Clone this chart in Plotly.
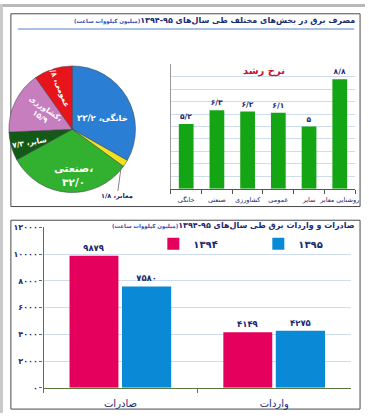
import plotly.graph_objects as go

W, H = 369, 418

# ---------------- data ----------------
pie_sectors = ["خانگی", "روشنایی معابر", "صنعتی", "سایر", "کشاورزی", "عمومی"]
pie_short = ["خانگی", "معابر", "صنعتی", "سایر", "کشاورزی", "عمومی"]
pie_values = [33.2, 1.8, 32.0, 7.3, 15.9, 9.8]
pie_value_text = ["۳۳/۲", "۱/۸", "۳۲/۰", "۷/۳", "۱۵/۹", "۹/۸"]

growth_categories = ["خانگی", "صنعتی", "کشاورزی", "عمومی", "سایر", "روشنایی معابر"]
growth_values = [5.2, 6.3, 6.2, 6.1, 5.0, 8.8]
growth_text = ["۵/۲", "۶/۳", "۶/۲", "۶/۱", "۵", "۸/۸"]

trade_categories = ["صادرات", "واردات"]
trade_1394 = [9879, 4149]
trade_1395 = [7580, 4275]
trade_1394_text = ["۹۸۷۹", "۴۱۴۹"]
trade_1395_text = ["۷۵۸۰", "۴۲۷۵"]
trade_ticks = [0, 2000, 4000, 6000, 8000, 10000, 12000]
trade_tick_text = ["۰", "۲۰۰۰", "۴۰۰۰", "۶۰۰۰", "۸۰۰۰", "۱۰۰۰۰", "۱۲۰۰۰"]
series_names = ["۱۳۹۴", "۱۳۹۵"]

title_top = "مصرف برق در بخش\u200cهای مختلف طی سال\u200cهای ۹۵-۱۳۹۴"
title_bottom = "صادرات و واردات برق طی سال\u200cهای ۹۵-۱۳۹۴"
unit_text = "(میلیون کیلووات ساعت)"
growth_title = "نرخ رشد"

# ---------------- style ----------------
FONT = "DejaVu Sans"
NAVY = "#1c2a6e"
pie_colors = ["#2a7fd4", "#f0e21c", "#31b12f", "#125a15", "#c67ebf", "#e8141c"]
GREEN_BAR = "#14a514"
PINK = "#e6005e"
BLUE = "#0a8ad6"
GRID = "#cfdcee"
OLIVE = "#5b7440"


def px(x):
    return x / W


def py(y):
    return 1 - y / H


fig = go.Figure()

# pie
fig.add_trace(go.Pie(
    labels=pie_sectors, values=pie_values, sort=False, direction="clockwise",
    rotation=0, textinfo="none", hoverinfo="label+value",
    marker=dict(colors=pie_colors, line=dict(color="#3a3a4a", width=0.5)),
    domain=dict(x=[px(9), px(137)], y=[py(194), py(62)]),
    showlegend=False,
))

# growth bars
fig.add_trace(go.Bar(
    x=growth_categories, y=growth_values, text=growth_text,
    textposition="outside", constraintext="none", cliponaxis=False,
    textfont=dict(family=FONT, size=7.5, color=NAVY, weight="bold"),
    marker=dict(color=GREEN_BAR, line=dict(width=0)), width=0.48,
    xaxis="x", yaxis="y", showlegend=False,
))

# trade bars
fig.add_trace(go.Bar(
    x=trade_categories, y=trade_1394, name=series_names[0], text=trade_1394_text,
    textposition="outside", constraintext="none", cliponaxis=False,
    textfont=dict(family=FONT, size=8.5, color=NAVY, weight="bold"),
    marker=dict(color=PINK, line=dict(width=0)), width=0.318, offset=-0.331,
    xaxis="x2", yaxis="y2",
))
fig.add_trace(go.Bar(
    x=trade_categories, y=trade_1395, name=series_names[1], text=trade_1395_text,
    textposition="outside", constraintext="none", cliponaxis=False,
    textfont=dict(family=FONT, size=8.5, color=NAVY, weight="bold"),
    marker=dict(color=BLUE, line=dict(width=0)), width=0.32, offset=0.01,
    xaxis="x2", yaxis="y2",
))

fig.update_layout(
    width=W, height=H, autosize=False,
    margin=dict(l=0, r=0, t=0, b=0),
    paper_bgcolor="white", plot_bgcolor="white",
    font=dict(family=FONT, color=NAVY),
    xaxis=dict(domain=[px(172.7), px(359)], anchor="y", type="category",
               showline=True, linecolor="#555", linewidth=1,
               ticks="outside", tickson="boundaries", ticklen=4, tickcolor="#555",
               tickangle=0, ticklabelstandoff=5,
               tickfont=dict(family=FONT, size=6.5, color=NAVY),
               showgrid=False, fixedrange=True),
    yaxis=dict(domain=[py(188.7), py(61.7)], anchor="x", range=[0, 10], dtick=1,
               showgrid=True, gridcolor=GRID, gridwidth=1,
               showline=True, linecolor="#999", linewidth=1,
               showticklabels=False, zeroline=False, fixedrange=True),
    xaxis2=dict(domain=[px(44), px(355)], anchor="y2", type="category",
                showline=True, linecolor=OLIVE, linewidth=1.2,
                ticks="outside", tickson="boundaries", ticklen=4, tickcolor=OLIVE,
                tickangle=0, ticklabelstandoff=6,
                tickfont=dict(family=FONT, size=10, color=NAVY),
                showgrid=False, fixedrange=True),
    yaxis2=dict(domain=[py(392.3), py(228.3)], anchor="x2", range=[0, 12000],
                tickvals=trade_ticks, ticktext=trade_tick_text,
                showgrid=True, gridcolor=GRID, gridwidth=1,
                showline=True, linecolor=OLIVE, linewidth=1.2,
                ticks="outside", ticklen=3, tickcolor=OLIVE,
                tickfont=dict(family=FONT, size=8, color=NAVY, weight="bold"),
                zeroline=False, fixedrange=True),
    legend=dict(orientation="h", x=px(155), y=py(245), xanchor="left", yanchor="middle",
                font=dict(family=FONT, size=10, color=NAVY, weight="bold"),
                bgcolor="rgba(0,0,0,0)", itemwidth=30, traceorder="normal",
                entrywidth=60, entrywidthmode="pixels"),
)

shapes = [
    # page frame strips
    dict(type="rect", xref="paper", yref="paper", x0=0, x1=1, y0=py(3), y1=1,
         fillcolor="#b9b9b9", line=dict(width=0), layer="below"),
    dict(type="rect", xref="paper", yref="paper", x0=0, x1=px(3), y0=0, y1=1,
         fillcolor="#c9c9c9", line=dict(width=0), layer="below"),
    # panel boxes
    dict(type="rect", xref="paper", yref="paper", x0=px(11), x1=px(364), y0=py(207), y1=py(10),
         line=dict(color="#4a4a4a", width=1), layer="below"),
    dict(type="rect", xref="paper", yref="paper", x0=px(11), x1=px(364), y0=py(414), y1=py(221),
         line=dict(color="#4a4a4a", width=1), layer="below"),
    # underline of top title
    dict(type="line", xref="paper", yref="paper", x0=px(18), x1=px(358), y0=py(25.5), y1=py(25.5),
         line=dict(color="#a8c2e6", width=2)),
]
fig.update_layout(shapes=shapes)

unit_span = "<span style='font-size:5.5px;color:#2f4fb5'>" + unit_text + "</span>"
annotations = [
    dict(text=title_top + unit_span, x=px(361), y=py(17), xanchor="right", yanchor="middle",
         font=dict(family=FONT, size=8, color=NAVY, weight="bold")),
    dict(text=title_bottom + unit_span, x=px(361), y=py(226.5), xanchor="right", yanchor="middle",
         font=dict(family=FONT, size=8, color=NAVY, weight="bold")),
    dict(text=growth_title, x=px(267), y=py(68), xanchor="center", yanchor="middle",
         font=dict(family=FONT, size=10, color="#c8102e", weight="bold")),
]

# pie slice labels: (x px, y px, angle, size, multiline)
pie_label_style = [
    (104, 116, 0, 8.5, False),
    (None, None, 0, 7, False),
    (74, 175, 0, 10.5, True),
    (30, 142, -10, 7.5, False),
    (43, 111, 35, 7.5, True),
    (60, 84, 68, 7.5, False),
]
for name, val, (lx, ly, ang, sz, multi) in zip(pie_short, pie_value_text, pie_label_style):
    sep = "،<br>" if multi else "، "
    if lx is None:
        continue
    annotations.append(dict(text=name + sep + val, x=px(lx), y=py(ly),
                            xanchor="center", yanchor="middle", textangle=ang,
                            font=dict(family=FONT, size=sz, color="white", weight="bold")))
# outside label for the small slice
annotations.append(dict(text=pie_short[1] + "، " + pie_value_text[1],
                        x=px(122.5), y=py(166), ax=-4, ay=30,
                        showarrow=True, arrowhead=0, arrowwidth=0.8, arrowcolor="#666",
                        font=dict(family=FONT, size=6.5, color=NAVY, weight="bold")))

for a in annotations:
    a.setdefault("xref", "paper")
    a.setdefault("yref", "paper")
    a.setdefault("showarrow", False)
fig.update_layout(annotations=annotations)

fig.write_html(
    "out.html",
    config={"displayModeBar": False},
    post_script="document.body.style.margin='0';document.body.style.overflow='hidden';",
)
